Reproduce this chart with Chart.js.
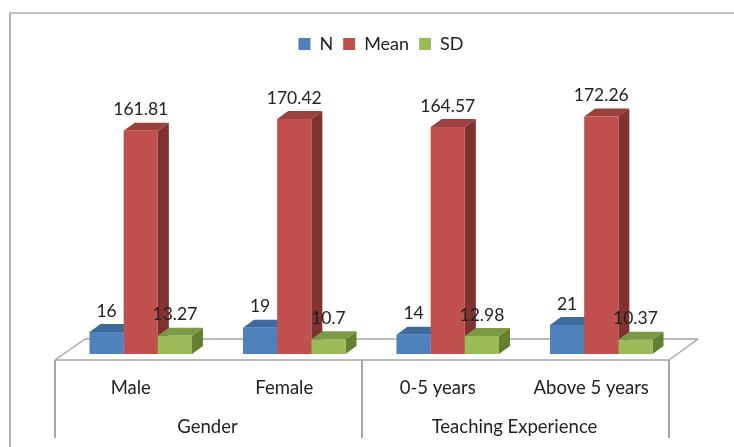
<!DOCTYPE html>
<html>
<head>
<meta charset="utf-8">
<script src="https://cdn.jsdelivr.net/npm/chart.js@4"></script>
<style>
html, body { margin: 0; padding: 0; background: #fff; }
canvas { display: block; }
</style>
</head>
<body>
<canvas id="myChart" width="734" height="447"></canvas>
<script>
var categories = ["Male", "Female", "0-5 years", "Above 5 years"];
var groups = ["Gender", "Teaching Experience"];
var nValues = [16, 19, 14, 21];
var meanValues = [161.81, 170.42, 164.57, 172.26];
var sdValues = [13.27, 10.7, 12.98, 10.37];
var valueLabels = [
  ["16", "19", "14", "21"],
  ["161.81", "170.42", "164.57", "172.26"],
  ["13.27", "10.7", "12.98", "10.37"]
];
var frontColors = ["#4F81BD", "#C0504D", "#9BBB59"];
var topColors = ["#3F6A9E", "#9A403D", "#7C9A45"];
var sideColors = ["#345885", "#7F3230", "#64802F"];

var FONT = "Lato";
var TEXT = "#222222";
var LINE = "#A6A6A6";
var DEPTH_X = 11;
var DEPTH_Y = 8;

function line(ctx, x1, y1, x2, y2, color, width) {
  ctx.strokeStyle = color;
  ctx.lineWidth = width;
  ctx.beginPath();
  ctx.moveTo(x1, y1);
  ctx.lineTo(x2, y2);
  ctx.stroke();
}

function face(ctx, pts, color) {
  ctx.fillStyle = color;
  ctx.beginPath();
  ctx.moveTo(pts[0][0], pts[0][1]);
  for (var i = 1; i < pts.length; i++) ctx.lineTo(pts[i][0], pts[i][1]);
  ctx.closePath();
  ctx.fill();
}

// floor, frame and the depth faces go behind the bars
var box3d = {
  id: "box3d",
  afterLayout: function(chart) {
    // legend sits a bit right of the plot centre
    chart.legend.left += 10;
    chart.legend.right += 10;
  },
  beforeDatasetsDraw: function(chart) {
    var ctx = chart.ctx, a = chart.chartArea, x2 = chart.scales.x2;
    ctx.save();
    line(ctx, 10, 13, 10, 447, "#B0B0B0", 2);
    line(ctx, 9, 13, 734, 13, "#C0C0C0", 2);

    var front = a.bottom + 6, back = a.bottom - 15;
    var left = a.left - 9, right = a.right - 9;
    var mid = (x2.getPixelForValue(0) + x2.getPixelForValue(1)) / 2 - 9;
    line(ctx, left, front, left + 30, back, LINE, 1.5);
    line(ctx, left + 30, back, right + 29, back, LINE, 1.5);
    line(ctx, right + 29, back, right, front, LINE, 1.5);
    line(ctx, left, front, right, front, LINE, 1.5);
    [left, mid, right].forEach(function(x) {
      line(ctx, x, front, x, 438, LINE, 2);
    });

    chart.data.datasets.forEach(function(ds, d) {
      chart.getDatasetMeta(d).data.forEach(function(bar) {
        var l = bar.x - bar.width / 2, r = bar.x + bar.width / 2;
        face(ctx, [[l, bar.y], [l + DEPTH_X, bar.y - DEPTH_Y], [r + DEPTH_X, bar.y - DEPTH_Y], [r, bar.y]], topColors[d]);
        face(ctx, [[r, bar.y], [r + DEPTH_X, bar.y - DEPTH_Y], [r + DEPTH_X, bar.base - DEPTH_Y], [r, bar.base]], sideColors[d]);
      });
    });
    ctx.restore();
  },
  afterDatasetsDraw: function(chart) {
    var ctx = chart.ctx;
    ctx.save();
    ctx.font = "17.5px " + FONT;
    ctx.fillStyle = TEXT;
    ctx.textAlign = "center";
    ctx.textBaseline = "middle";
    chart.data.datasets.forEach(function(ds, d) {
      chart.getDatasetMeta(d).data.forEach(function(bar, i) {
        ctx.fillText(valueLabels[d][i], bar.x, bar.y - 21);
      });
    });
    ctx.restore();
  }
};

new Chart("myChart", {
  type: "bar",
  data: {
    labels: categories,
    datasets: [
      { label: "N", data: nValues, backgroundColor: frontColors[0] },
      { label: "Mean", data: meanValues, backgroundColor: frontColors[1] },
      { label: "SD", data: sdValues, backgroundColor: frontColors[2] }
    ]
  },
  plugins: [box3d],
  options: {
    responsive: false,
    animation: false,
    layout: { padding: { left: 64, right: 56, top: 25, bottom: 0 } },
    datasets: { bar: { categoryPercentage: 0.668, barPercentage: 1 } },
    plugins: {
      tooltip: { enabled: false },
      legend: {
        position: "top",
        labels: {
          boxWidth: 12,
          boxHeight: 12,
          padding: 10,
          color: TEXT,
          font: { family: FONT, size: 18 }
        }
      }
    },
    scales: {
      y: { display: false, min: 0, max: 211 },
      x: {
        position: "bottom",
        afterFit: function(scale) { scale.height = 50; },
        grid: { display: false },
        border: { display: false },
        ticks: { color: TEXT, padding: 15, labelOffset: -10, maxRotation: 0, autoSkip: false, font: { family: FONT, size: 18.5 } }
      },
      x2: {
        type: "category",
        labels: groups,
        position: "bottom",
        afterFit: function(scale) { scale.height = 43; },
        grid: { display: false },
        border: { display: false },
        ticks: { color: TEXT, padding: 4, labelOffset: -10, maxRotation: 0, autoSkip: false, font: { family: FONT, size: 18.5 } }
      }
    }
  }
});
</script>
</body>
</html>
